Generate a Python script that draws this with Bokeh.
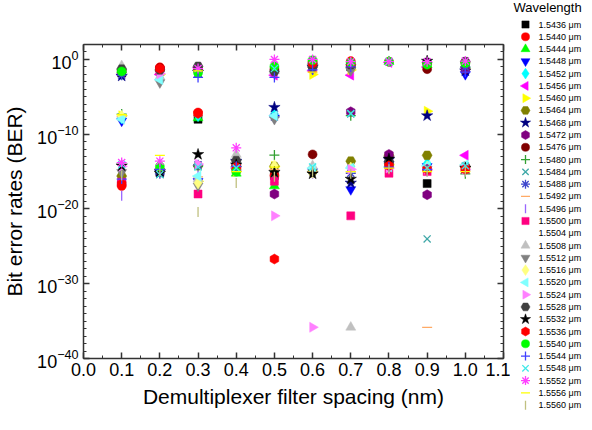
from bokeh.plotting import figure
from bokeh.models import (Range1d, LogAxis, LinearAxis, FixedTicker,
                          CustomJSTickFormatter, LogTickFormatter)
from bokeh.layouts import row
from bokeh.core.properties import value
from bokeh.embed import file_html
from bokeh.resources import INLINE
import math

# ---------------- data ----------------
spacing_nm = [0.1, 0.2, 0.3, 0.4, 0.5, 0.6, 0.7, 0.8, 0.9, 1.0]

wavelength_um = ["1.5436", "1.5440", "1.5444", "1.5448", "1.5452", "1.5456",
                 "1.5460", "1.5464", "1.5468", "1.5472", "1.5476", "1.5480",
                 "1.5484", "1.5488", "1.5492", "1.5496", "1.5500", "1.5504",
                 "1.5508", "1.5512", "1.5516", "1.5520", "1.5524", "1.5528",
                 "1.5532", "1.5536", "1.5540", "1.5544", "1.5548", "1.5552",
                 "1.5556", "1.5560"]

# BER of each wavelength (index order above) at each filter spacing
ber_at_0_1 = [1.5e-2, 1.2e-17, 4e-2, 6e-9, 1.5e-8, 1e-2, 3e-8, 2.5e-16,
              6e-3, 3e-17, 3e-2, 5e-8, 2e-2, 8e-3, 2.5e-8, 6e-19,
              4e-17, 1e-16, 1.4e-1, 8e-16, 2.5e-8, 1e-8, 5e-15, 5e-2,
              6e-15, 2e-17, 2.5e-2, 1e-16, 8e-15, 1.6e-14, 4e-8, 3e-16]
ber_at_0_2 = [8e-16, 9e-2, 2e-2, 1e-15, 3e-3, 1e-2, 1e-2, 2e-15,
              1e-15, 5e-2, 7e-2, 3e-2, 2e-2, 5e-16, 2e-15, 1e-15,
              3e-2, 1e-15, 5e-3, 8e-4, 3e-15, 2e-3, 1.2e-2, 4e-2,
              6e-16, 6e-2, 5e-15, 2e-15, 4e-16, 2.5e-14, 1.5e-13, 1e-15]
ber_at_0_3 = [1e-8, 8e-8, 1.5e-8, 5e-17, 3e-8, 8e-2, 5e-17, 6e-15,
              2e-2, 4e-2, 5e-2, 5e-15, 5e-15, 8e-15, 2e-16, 3e-16,
              1e-18, 1e-16, 1e-16, 1.2e-17, 3e-17, 2.5e-16, 1e-14, 1.2e-1,
              2e-13, 6e-8, 1.6e-2, 4e-3, 4e-15, 6e-2, 3e-2, 4e-21]
ber_at_0_4 = [1e-14, 3e-15, 6e-16, 2e-15, 5e-15, 3e-15, 1e-15, 5e-15,
              2.5e-14, 2e-15, 4e-15, 2e-15, 3e-15, 1e-14, 3e-15, 1e-15,
              2e-15, 1e-15, 2e-13, 4e-15, 2e-15, 4e-15, 1.5e-15, 3e-14,
              8e-15, 4e-15, 1e-15, 5e-15, 3e-15, 1.5e-12, 1e-15, 3e-17]
ber_at_0_5 = [3e-16, 3e-16, 1.2e-17, 1.5e-8, 5e-8, 8e-3, 5e-15, 5e-15,
              4e-7, 1e-18, 5e-2, 1.6e-13, 1e-16, 2e-8, 2e-15, 1e-16,
              5e-17, 1e-15, 3e-2, 1e-8, 6e-15, 3e-8, 1.2e-21, 2.5e-2,
              8e-16, 2e-27, 1.2e-1, 4e-3, 6e-2, 1.0, 4e-15, 2e-16]
ber_at_0_6 = [2e-1, 5e-1, 4e-1, 1e-15, 2e-15, 3e-2, 1e-2, 1e-15,
              1e-1, 2e-1, 2e-13, 1e-15, 5e-1, 3e-1, 1e-15, 5e-16,
              6e-2, 1e-15, 6e-15, 5e-2, 8e-16, 3e-15, 1.5e-36, 1e-1,
              5e-16, 3e-1, 8e-1, 4e-2, 4e-15, 1.0, 2e-2, 1e-15]
ber_at_0_7 = [1e-1, 6e-1, 2e-1, 4e-18, 5e-15, 8e-3, 4e-2, 2.5e-14,
              3e-17, 1e-7, 1e-1, 3e-8, 5e-8, 6e-16, 1e-15, 1e-15,
              1.2e-21, 1e-15, 1.5e-36, 3e-2, 3e-15, 3e-15, 2e-15, 2e-1,
              1e-16, 3e-1, 4e-1, 1e-1, 6e-8, 5e-1, 1e-15, 5e-16]
ber_at_0_8 = [3e-14, 5e-1, 5e-1, 1e-14, 5e-15, 4e-1, 8e-15, 1.5e-13,
              4e-14, 2e-13, 7e-15, 5e-1, 5e-1, 5e-15, 3e-15, 2e-15,
              6e-16, 1e-15, 1e-14, 5e-15, 4e-15, 4e-15, 3e-15, 2e-14,
              5e-14, 6e-15, 5e-1, 4e-15, 5e-1, 5e-1, 3e-15, 2e-15]
ber_at_0_9 = [2.5e-17, 3e-1, 2e-1, 5e-15, 1.2e-14, 1e-1, 1.2e-7, 1.5e-13,
              3e-8, 8e-19, 5e-2, 2e-15, 1e-24, 1.5e-15, 1.5e-36, 1e-15,
              1e-15, 1e-15, 3e-15, 2e-15, 4e-15, 6e-15, 2e-15, 4e-1,
              6e-1, 2e-15, 2e-1, 2e-15, 3e-15, 5e-1, 1e-15, 1e-15]
ber_at_1_0 = [2e-1, 4e-1, 2e-1, 1e-2, 3e-15, 1.5e-13, 5e-2, 4e-15,
              3e-2, 5e-2, 5e-15, 5e-16, 2e-15, 1e-1, 2e-15, 1e-15,
              2e-15, 1e-15, 3e-15, 2e-15, 3e-15, 8e-15, 2e-15, 5e-1,
              3e-15, 2e-15, 3e-1, 2e-2, 6e-15, 6e-1, 1e-15, 1e-15]

columns = [ber_at_0_1, ber_at_0_2, ber_at_0_3, ber_at_0_4, ber_at_0_5,
           ber_at_0_6, ber_at_0_7, ber_at_0_8, ber_at_0_9, ber_at_1_0]

x_ticks = [0.0, 0.1, 0.2, 0.3, 0.4, 0.5, 0.6, 0.7, 0.8, 0.9, 1.0, 1.1]
x_minor = [0.05, 0.15, 0.25, 0.35, 0.45, 0.55, 0.65, 0.75, 0.85, 0.95, 1.05]
y_exponents = [-40, -30, -20, -10, 0]

# ---------------- styles (marker, colour, angle, size) ----------------
PI = math.pi
styles = [
    ("square", "#000000", 0, 8),
    ("circle", "#ff0000", 0, 9),
    ("triangle", "#00ff00", 0, 10),
    ("inverted_triangle", "#0000ff", 0, 10),
    ("diamond", "#00ffff", 0, 12),
    ("triangle", "#ff00ff", PI / 2, 10),
    ("triangle", "#ffff00", -PI / 2, 10),
    ("hex", "#808000", 0, 10),
    ("star", "#000080", 0, 12),
    ("hex", "#800080", PI / 6, 10),
    ("circle", "#800000", 0, 9),
    ("cross", "#33a033", 0, 10),
    ("x", "#40a8a8", 0, 10),
    ("asterisk", "#3f48cc", 0, 10),
    ("dash", "#ffaa66", 0, 10),
    ("dash", "#9966ff", PI / 2, 10),
    ("square", "#ff0080", 0, 8),
    ("circle", "#ffffff", 0, 1),
    ("triangle", "#c0c0c0", 0, 10),
    ("inverted_triangle", "#808080", 0, 10),
    ("diamond", "#ffff80", 0, 12),
    ("triangle", "#80ffff", PI / 2, 10),
    ("triangle", "#ff80ff", -PI / 2, 10),
    ("hex", "#404040", 0, 10),
    ("star", "#000000", 0, 12),
    ("hex", "#ff0000", PI / 6, 10),
    ("circle", "#00ff00", 0, 9),
    ("cross", "#4040ff", 0, 10),
    ("x", "#40e8e8", 0, 10),
    ("asterisk", "#ff40ff", 0, 10),
    ("dash", "#ffff00", 0, 10),
    ("dash", "#c0c080", PI / 2, 10),
]
LINE_MARKERS = {"cross", "x", "asterisk", "dash"}

FONT = "Liberation Sans"
AX = "#333333"
FIG_H = 414

p = figure(width=510, height=FIG_H,
           x_range=Range1d(0, 1.1), y_range=Range1d(1e-40, 1e2),
           y_axis_type="log", output_backend="svg", toolbar_location=None,
           min_border_left=77, min_border_right=7,
           min_border_top=44, min_border_bottom=56)
p.grid.visible = False
p.outline_line_color = None
p.frame_align = False

xticker = FixedTicker(ticks=x_ticks, minor_ticks=x_minor)
yticker = FixedTicker(ticks=[10.0 ** e for e in y_exponents],
                      minor_ticks=[10.0 ** e for e in range(-40, 3)])
xfmt = CustomJSTickFormatter(code="return tick.toFixed(1);")
blank = CustomJSTickFormatter(code="return '';")


def style_axis(ax):
    ax.axis_line_color = AX
    ax.axis_line_width = 1.5
    ax.major_tick_line_color = AX
    ax.major_tick_line_width = 1.5
    ax.minor_tick_line_color = AX
    ax.minor_tick_line_width = 1
    ax.major_tick_in = 6
    ax.major_tick_out = 0
    ax.minor_tick_in = 3
    ax.minor_tick_out = 0
    ax.major_label_text_font = FONT
    ax.major_label_text_font_size = "18px"
    ax.major_label_text_color = "black"
    ax.axis_label_text_font = FONT
    ax.axis_label_text_font_size = "21px"
    ax.axis_label_text_font_style = "normal"
    ax.axis_label_text_color = "black"


xa = p.xaxis[0]
xa.ticker = xticker
xa.formatter = xfmt
xa.axis_label = "Demultiplexer filter spacing (nm)"
style_axis(xa)
xa.major_label_standoff = 4
xa.axis_label_standoff = 6

ya = p.yaxis[0]
ya.ticker = yticker
ya.formatter = LogTickFormatter()
ya.axis_label = "Bit error rates (BER)"
style_axis(ya)
ya.major_label_standoff = 5
ya.axis_label_standoff = 8

top = LinearAxis(ticker=xticker, formatter=blank)
style_axis(top)
top.major_label_standoff = 0
p.add_layout(top, "above")

right = LogAxis(ticker=yticker, formatter=blank)
style_axis(right)
right.major_label_standoff = 0
p.add_layout(right, "right")

for i, (mk, col, ang, sz) in enumerate(styles):
    ys = [c[i] for c in columns]
    kw = dict(marker=mk, size=sz, angle=ang)
    if i == 17:
        kw.update(fill_alpha=0, line_alpha=0)
    elif mk in LINE_MARKERS:
        kw.update(line_color=col, line_width=1.3, fill_color=col)
    else:
        kw.update(fill_color=col, line_color=col, line_width=0.5)
    p.scatter(x=spacing_nm, y=ys, **kw)

# ---------------- legend panel ----------------
LEG_W = 72
lf = figure(width=LEG_W, height=FIG_H, x_range=Range1d(0, LEG_W),
            y_range=Range1d(FIG_H, 0), output_backend="svg",
            toolbar_location=None, min_border=0, title=None,
            x_axis_location=None, y_axis_location=None)
lf.grid.visible = False
lf.outline_line_color = None
lf.frame_align = False

row_top, row_pitch = 24.0, 12.28
row_y = [row_top + row_pitch * i for i in range(len(wavelength_um))]
labels = [f"{w} \u03bcm" for w in wavelength_um]

lf.text(x=[3], y=[7], text=["Wavelength"], text_font=value(FONT),
        text_font_size="13px", text_baseline="middle", text_align="left",
        text_color="black")
for i, (mk, col, ang, sz) in enumerate(styles):
    kw = dict(marker=mk, size=sz * 0.9, angle=ang)
    if i == 17:
        kw.update(fill_alpha=0, line_alpha=0)
    elif mk in LINE_MARKERS:
        kw.update(line_color=col, line_width=1.3, fill_color=col)
    else:
        kw.update(fill_color=col, line_color=col, line_width=0.5)
    lf.scatter(x=[15], y=[row_y[i]], **kw)
lf.text(x=[28] * len(labels), y=row_y, text=labels, text_font=value(FONT),
        text_font_size="9px", text_baseline="middle", text_align="left",
        text_color="black")

layout = row(p, lf)
open("out.html", "w").write(file_html(layout, INLINE))
